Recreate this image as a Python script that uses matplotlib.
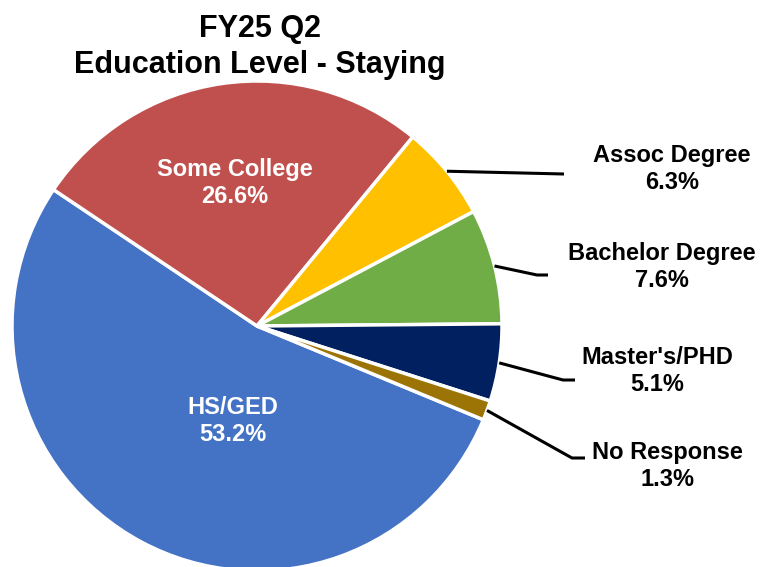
import numpy as np
import matplotlib.pyplot as plt

plt.rcParams['font.family'] = ['Liberation Sans', 'DejaVu Sans']

categories = ['HS/GED', 'Some College', 'Assoc Degree', 'Bachelor Degree',
              "Master's/PHD", 'No Response']
shares = [53.2, 26.6, 6.3, 7.6, 5.1, 1.3]
colors = ['#4472C4', '#C0504D', '#FFC000', '#70AD47', '#002060', '#9C7406']

# label layout (pixel coords, y from top): inside labels and outside labels with elbows
inside_pos = {'HS/GED': (233, 421), 'Some College': (235, 183)}
outside_pos = {
    'Assoc Degree': ((672, 169), (564, 174), (564, 174)),
    'Bachelor Degree': ((662, 267), (537, 275), (548, 275)),
    "Master's/PHD": ((657, 371), (563, 380), (575, 380)),
    'No Response': ((667, 466), (572, 458), (585, 458)),
}

W, H = 760, 567
fig = plt.figure(figsize=(W / 100, H / 100), dpi=100)
ax = fig.add_axes([0, 0, 1, 1])

cx, cy, R = 257, H - 326, 245
wedges, _ = ax.pie(shares, colors=colors, startangle=-22.5, counterclock=False,
                   center=(cx, cy), radius=R,
                   wedgeprops=dict(edgecolor='white', linewidth=2.5))
ax.set_xlim(0, W)
ax.set_ylim(0, H)
ax.axis('off')

for w, name, val in zip(wedges, categories, shares):
    label = f'{name}\n{val:.1f}%'
    if name in inside_pos:
        x, y = inside_pos[name]
        ax.text(x, H - y, label, color='white', fontsize=17, fontweight='bold',
                ha='center', va='center', linespacing=1.25)
    else:
        (tx, ty), (ex, ey), (fx, fy) = outside_pos[name]
        mid = np.deg2rad((w.theta1 + w.theta2) / 2)
        sx, sy = cx + R * np.cos(mid), cy + R * np.sin(mid)
        ax.plot([sx, ex, fx], [sy, H - ey, H - fy], color='black', lw=2.2,
                solid_capstyle='butt')
        ax.text(tx, H - ty, label, color='black', fontsize=17, fontweight='bold',
                ha='center', va='center', linespacing=1.25)

ax.text(260, H - 47, 'FY25 Q2\nEducation Level - Staying', fontsize=22,
        fontweight='bold', ha='center', va='center', linespacing=1.25)

fig.savefig('out.png', dpi=100)
